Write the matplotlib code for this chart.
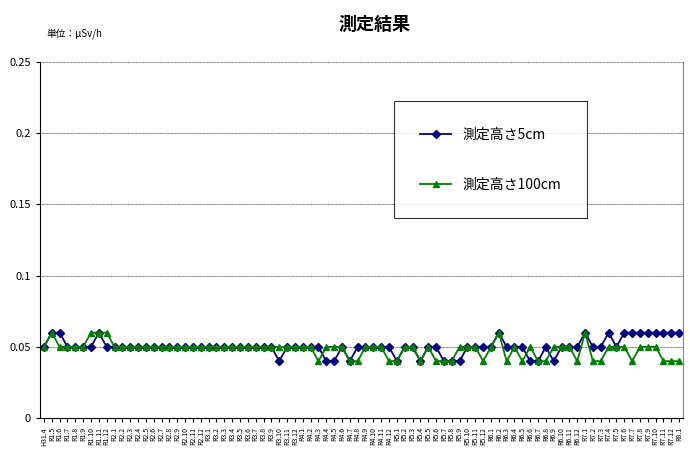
import matplotlib
matplotlib.use("Agg")
import matplotlib.pyplot as plt

plt.rcParams['font.family'] = ['Noto Sans CJK JP', 'DejaVu Sans']

labels = ["H31.4"] + [f"R1.{m}" for m in range(5, 13)]
for y in range(2, 8):
    labels += [f"R{y}.{m}" for m in range(1, 13)]
labels += ["R8.1"]

h5 = [.05,.06,.06,.05,.05,.05,.05,.06,.05,
      .05,.05,.05,.05,.05,.05,.05,.05,.05,.05,.05,.05,
      .05,.05,.05,.05,.05,.05,.05,.05,.05,.04,.05,.05,
      .05,.05,.05,.04,.04,.05,.04,.05,.05,.05,.05,.05,
      .04,.05,.05,.04,.05,.05,.04,.04,.04,.05,.05,.05,
      .05,.06,.05,.05,.05,.04,.04,.05,.04,.05,.05,.05,
      .06,.05,.05,.06,.05,.06,.06,.06,.06,.06,.06,.06,
      .06]
h100 = [.05,.06,.05,.05,.05,.05,.06,.06,.06,
        .05,.05,.05,.05,.05,.05,.05,.05,.05,.05,.05,.05,
        .05,.05,.05,.05,.05,.05,.05,.05,.05,.05,.05,.05,
        .05,.05,.04,.05,.05,.05,.04,.04,.05,.05,.05,.04,
        .04,.05,.05,.04,.05,.04,.04,.04,.05,.05,.05,.04,
        .05,.06,.04,.05,.04,.05,.04,.04,.05,.05,.05,.04,
        .06,.04,.04,.05,.05,.05,.04,.05,.05,.05,.04,.04,
        .04]

fig = plt.figure(figsize=(6.9, 4.53), dpi=100)
ax = fig.add_axes([0.058, 0.077, 0.932, 0.786])
x = range(len(labels))
ax.plot(x, h5, color='#000080', marker='D', markersize=4, linewidth=1.3, label='測定高さ5cm')
ax.plot(x, h100, color='#008000', marker='^', markersize=5, linewidth=1.3, label='測定高さ100cm')
ax.set_ylim(0, 0.25)
ax.set_yticks([0, 0.05, 0.1, 0.15, 0.2, 0.25])
ax.set_yticklabels(['0', '0.05', '0.1', '0.15', '0.2', '0.25'], fontsize=8)
ax.set_xlim(-0.5, len(labels) - 0.5)
ax.set_xticks(list(x))
ax.set_xticklabels(labels, rotation=90, fontsize=5)
ax.grid(axis='y', color='black', linestyle=(0, (1, 1)), linewidth=0.5)
ax.spines['top'].set_visible(False)
ax.spines['right'].set_color('#888888')
ax.tick_params(axis='both', length=3)
leg = fig.legend(loc='upper left', bbox_to_anchor=(0.561, 0.792), frameon=True,
                 fancybox=False, edgecolor='black', fontsize=10,
                 borderpad=1.9, labelspacing=2.6, handlelength=2.2)
leg.get_frame().set_linewidth(0.8)
fig.text(0.543, 0.935, '測定結果', ha='center', fontsize=13, fontweight='bold')
fig.text(0.068, 0.92, '単位：μSv/h', fontsize=7)
fig.savefig('out.png', dpi=100)
